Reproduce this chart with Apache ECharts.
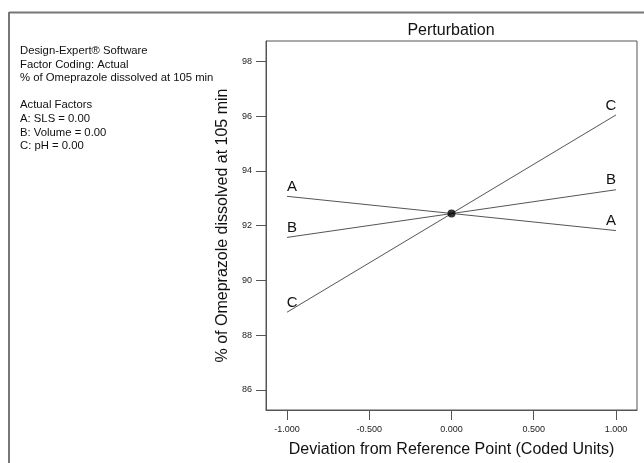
<!DOCTYPE html>
<html>
<head>
<meta charset="utf-8">
<script src="https://cdn.jsdelivr.net/npm/echarts@6/dist/echarts.min.js"></script>
<style>
html, body { margin: 0; padding: 0; background: #fff; }
#perturbation_con { width: 644px; height: 463px; }
</style>
</head>
<body>
<div id="perturbation_con"></div>
<script>
// deviation from reference point, coded units
let xTicks = [-1, -0.5, 0, 0.5, 1];
let yTicks = [86, 88, 90, 92, 94, 96, 98];
let factorNames = ['A', 'B', 'C'];
let lineA = [[-1, 93.07], [1, 91.82]];
let lineB = [[-1, 91.57], [1, 93.31]];
let lineC = [[-1, 88.84], [1, 96.04]];
let refPoint = [[0, 92.44]];
let infoLines = [
    'Design-Expert® Software',
    'Factor Coding: Actual',
    '% of Omeprazole dissolved at 105 min',
    '',
    'Actual Factors',
    'A: SLS = 0.00',
    'B: Volume = 0.00',
    'C: pH = 0.00'
];

let chart = echarts.init(document.getElementById('perturbation_con'));
let lineColor = '#555';
let font = 'Liberation Sans, Arial, sans-serif';

function factorSeries (name, data) {
    return {
        name: name,
        type: 'line',
        data: data,
        symbol: 'none',
        silent: true,
        lineStyle: { color: lineColor, width: 1 },
        markPoint: {
            symbol: 'circle',
            symbolSize: 0,
            label: {
                show: true,
                formatter: name,
                color: '#111',
                fontSize: 15,
                fontFamily: font,
                position: 'top',
                distance: 2
            },
            data: [
                { coord: data[0], label: { offset: [5, 0] } },
                { coord: data[1], label: { offset: [-5, 0] } }
            ]
        }
    };
}

const option = {
    animation: false,
    backgroundColor: '#fff',
    grid: {
        left: 266,
        top: 41,
        right: 7,
        bottom: 52,
        show: true,
        borderColor: lineColor,
        borderWidth: 1
    },
    xAxis: {
        type: 'value',
        min: -1.128,
        max: 1.128,
        name: 'Deviation from Reference Point (Coded Units)',
        nameLocation: 'middle',
        nameGap: 32,
        nameTextStyle: { fontSize: 16, color: '#111', fontFamily: font },
        axisLine: { show: true, onZero: false, lineStyle: { color: lineColor } },
        axisTick: { show: true, length: 10, customValues: xTicks, lineStyle: { color: lineColor } },
        axisLabel: {
            customValues: xTicks,
            margin: 15,
            fontSize: 9,
            color: '#222',
            fontFamily: font,
            formatter: function (v) { return v.toFixed(3); }
        },
        splitLine: { show: false }
    },
    yAxis: {
        type: 'value',
        min: 85.27,
        max: 98.74,
        name: '% of Omeprazole dissolved at 105 min',
        nameLocation: 'middle',
        nameGap: 32,
        nameTextStyle: { fontSize: 16, color: '#111', fontFamily: font },
        axisLine: { show: true, onZero: false, lineStyle: { color: lineColor } },
        axisTick: { show: true, length: 10, customValues: yTicks, lineStyle: { color: lineColor } },
        axisLabel: {
            customValues: yTicks,
            margin: 14,
            fontSize: 9,
            color: '#222',
            fontFamily: font
        },
        splitLine: { show: false }
    },
    graphic: [
        {
            type: 'line',
            shape: { x1: 9, y1: 12.5, x2: 644, y2: 12.5 },
            style: { stroke: '#777', lineWidth: 2 }
        },
        {
            type: 'line',
            shape: { x1: 9, y1: 12, x2: 9, y2: 463 },
            style: { stroke: '#777', lineWidth: 2 }
        },
        {
            type: 'text',
            x: 451,
            y: 31,
            style: {
                text: 'Perturbation',
                fontSize: 16,
                fontFamily: font,
                fill: '#111',
                align: 'center',
                verticalAlign: 'middle'
            }
        },
        {
            type: 'text',
            x: 20,
            y: 44,
            style: {
                text: infoLines.join('\n'),
                fontSize: 11.3,
                lineHeight: 13.6,
                fontFamily: font,
                fill: '#111'
            }
        }
    ],
    series: [
        factorSeries(factorNames[0], lineA),
        factorSeries(factorNames[1], lineB),
        factorSeries(factorNames[2], lineC),
        {
            name: 'reference',
            type: 'scatter',
            data: refPoint,
            symbolSize: 8,
            itemStyle: { color: '#000' },
            z: 5
        }
    ]
};

chart.setOption(option);

window.addEventListener('resize', function () {
    chart.resize();
});
</script>
</body>
</html>
